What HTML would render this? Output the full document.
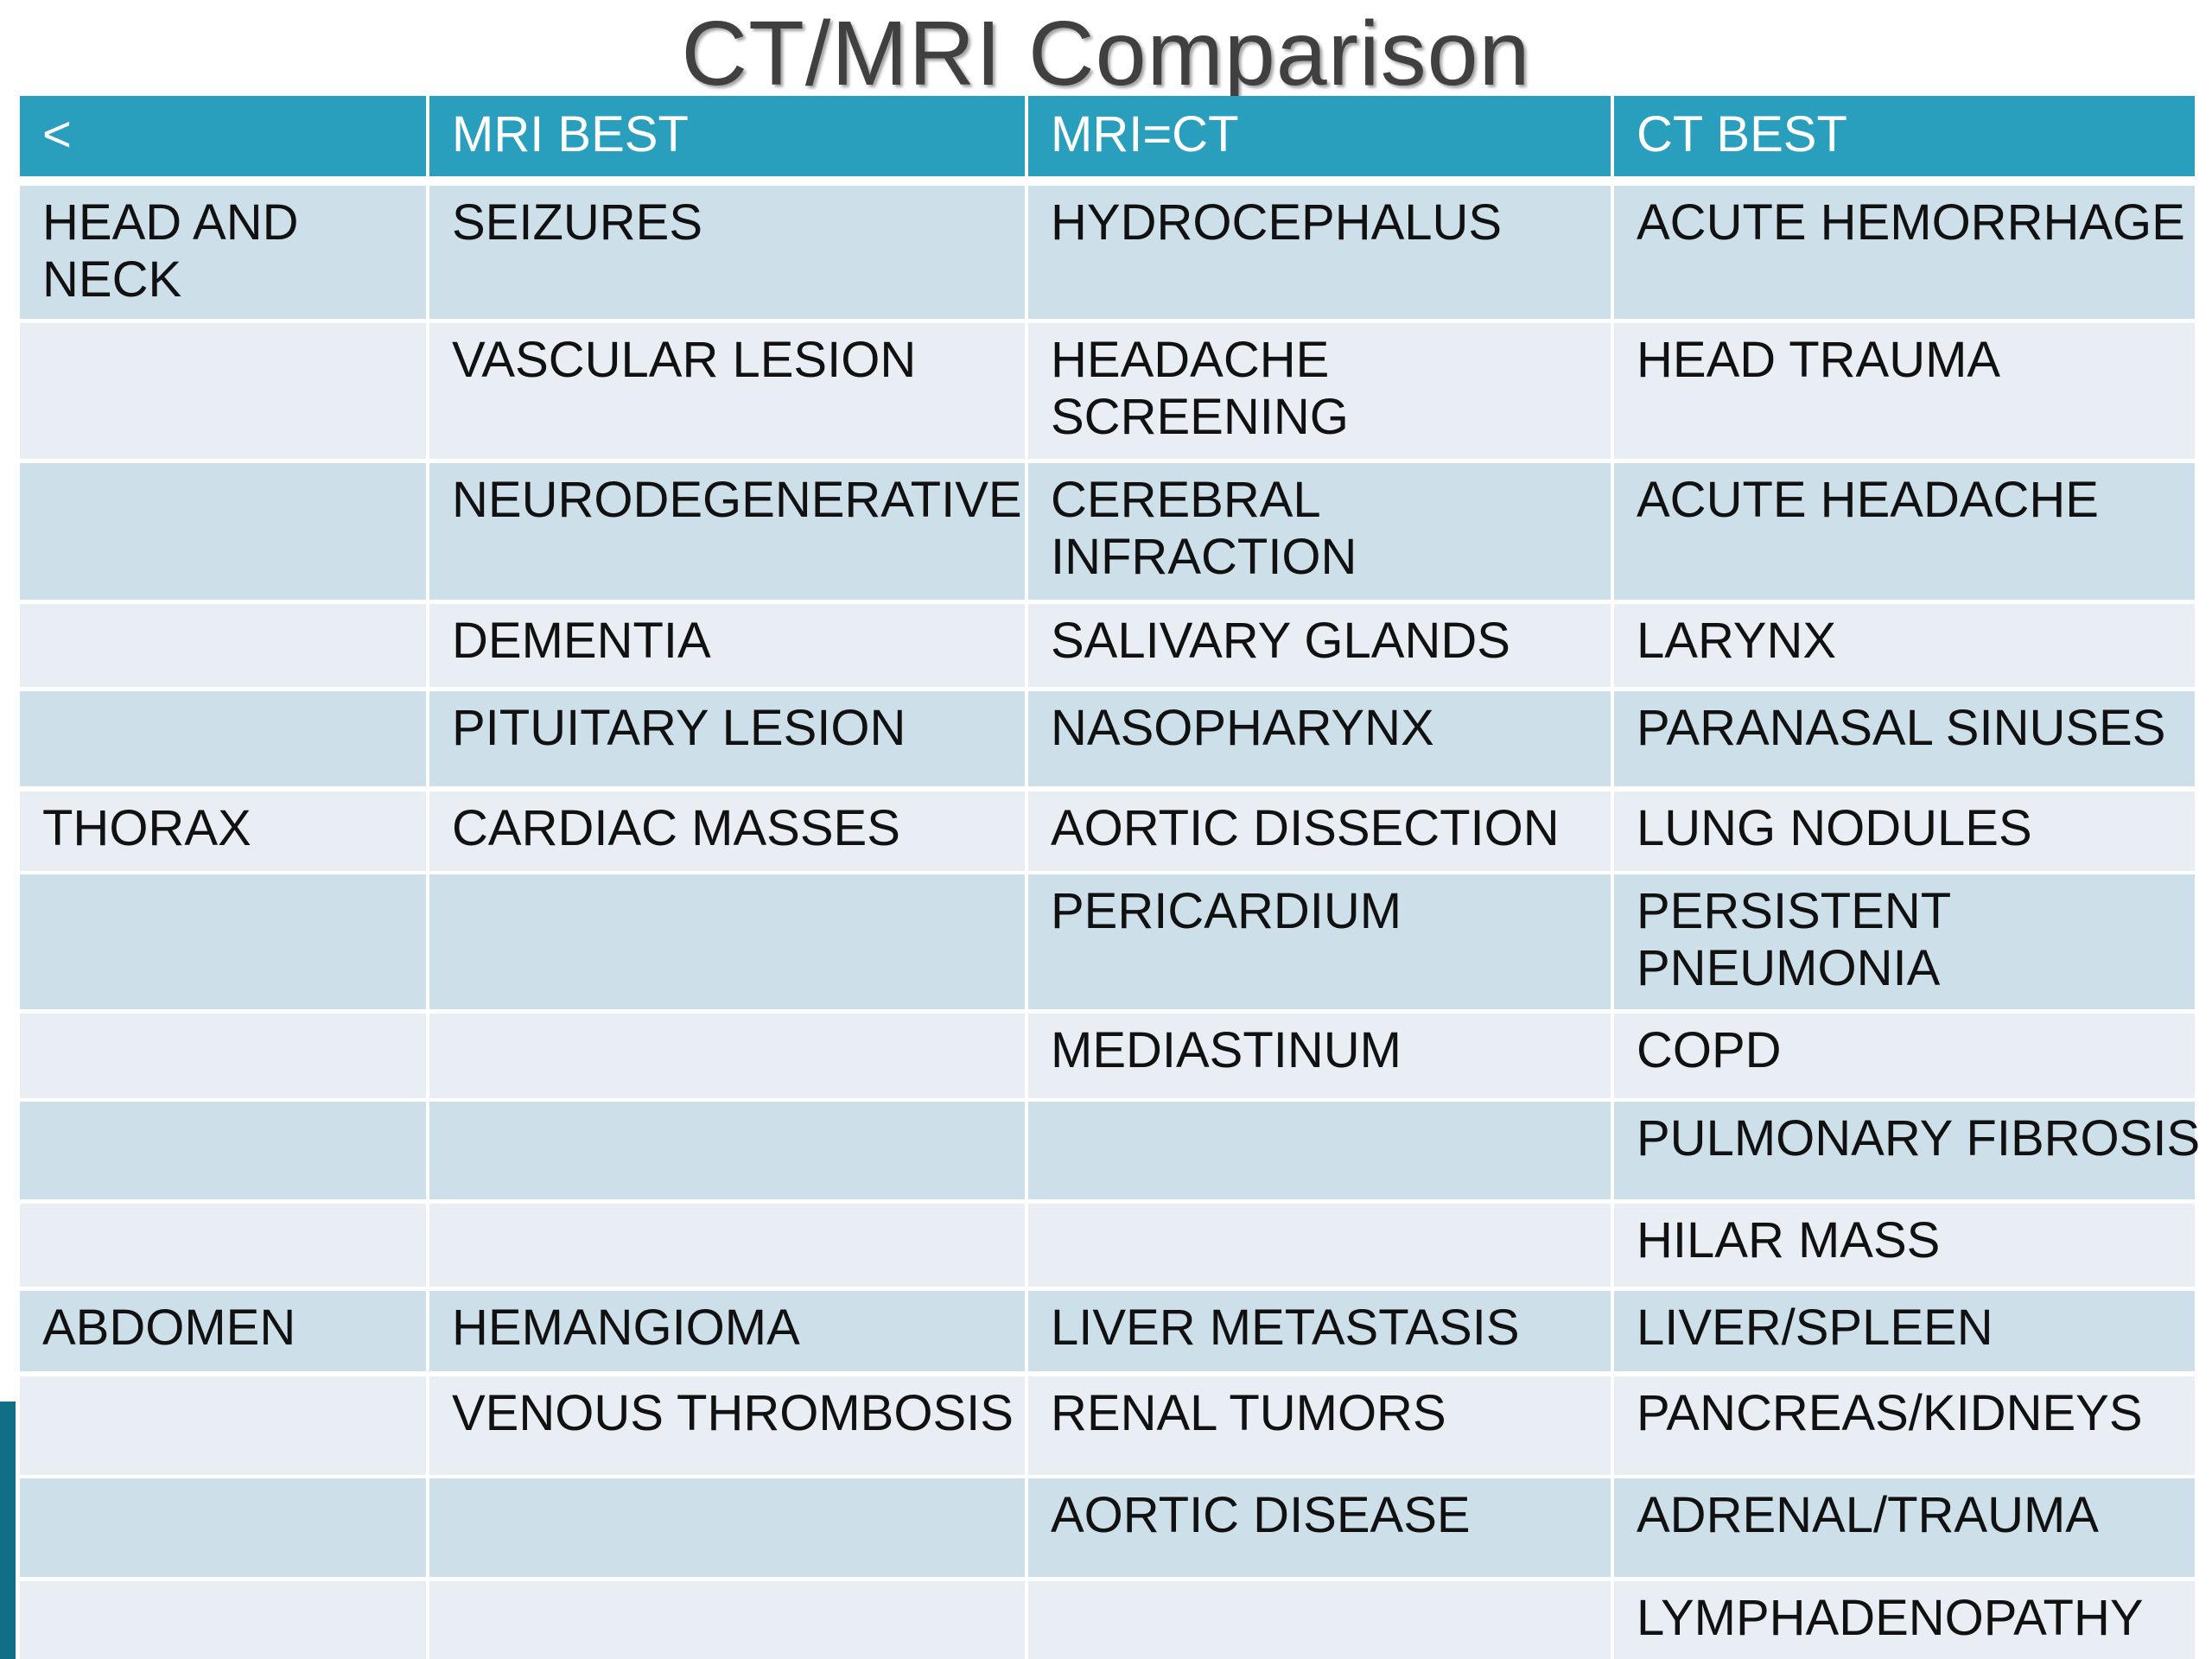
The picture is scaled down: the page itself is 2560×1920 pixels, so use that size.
<!DOCTYPE html>
<html><head><meta charset="utf-8"><style>
html,body{margin:0;padding:0;background:#fff;}
body{width:2560px;height:1920px;position:relative;overflow:hidden;font-family:"Liberation Sans","DejaVu Sans",sans-serif;}
#title{position:absolute;left:0;width:2560px;top:2px;text-align:center;font-size:106px;color:#404040;text-shadow:3px 3px 3px rgba(0,0,0,0.35);letter-spacing:1px;}
.cell{position:absolute;box-sizing:border-box;padding:10px 0 0 26px;font-size:58px;line-height:66px;color:#111;letter-spacing:0px;white-space:nowrap;}
.hdr{background:#2a9fbd;color:#fff;}
.dark{background:#cddfe8;}
.light{background:#e8eef4;}
#sidebar{position:absolute;left:0;top:1622px;width:18px;height:298px;background:#0e6f86;}
</style></head><body>
<div id="title">CT/MRI Comparison</div>
<div id="sidebar"></div>
<div id="table"></div>
<script>
const colEdges=[[23,493],[497,1186],[1190,1864],[1868,2540]];
const headers=["<","MRI BEST","MRI=CT","CT BEST"];
const rowEdges=[[215,369],[374,531],[536,694],[699,795],[800,910],[916,1008],[1012,1168],[1173,1271],[1275,1388],[1393,1489],[1494,1587],[1593,1707],[1711,1825],[1830,1920]];
const rows=[
["HEAD AND<br>NECK","SEIZURES","HYDROCEPHALUS","ACUTE HEMORRHAGE"],
["","VASCULAR LESION","HEADACHE<br>SCREENING","HEAD TRAUMA"],
["","NEURODEGENERATIVE","CEREBRAL<br>INFRACTION","ACUTE HEADACHE"],
["","DEMENTIA","SALIVARY GLANDS","LARYNX"],
["","PITUITARY LESION","NASOPHARYNX","PARANASAL SINUSES"],
["THORAX","CARDIAC MASSES","AORTIC DISSECTION","LUNG NODULES"],
["","","PERICARDIUM","PERSISTENT<br>PNEUMONIA"],
["","","MEDIASTINUM","COPD"],
["","","","PULMONARY FIBROSIS"],
["","","","HILAR MASS"],
["ABDOMEN","HEMANGIOMA","LIVER METASTASIS","LIVER/SPLEEN"],
["","VENOUS THROMBOSIS","RENAL TUMORS","PANCREAS/KIDNEYS"],
["","","AORTIC DISEASE","ADRENAL/TRAUMA"],
["","","","LYMPHADENOPATHY"]];
const t=document.getElementById('table');
headers.forEach((h,c)=>{
  const d=document.createElement('div');
  d.className='cell hdr';
  
  
  d.style.left=colEdges[c][0]+'px';d.style.width=(colEdges[c][1]-colEdges[c][0])+'px';
  d.style.top='111px';d.style.height='93px';d.style.paddingTop='12px';
  d.textContent=h;t.appendChild(d);
});
rows.forEach((r,i)=>{
  r.forEach((txt,c)=>{
    const d=document.createElement('div');
    d.className='cell '+(i%2===0?'dark':'light');
    
    
    d.style.left=colEdges[c][0]+'px';d.style.width=(colEdges[c][1]-colEdges[c][0])+'px';
    d.style.top=rowEdges[i][0]+'px';d.style.height=(rowEdges[i][1]-rowEdges[i][0])+'px';
    d.innerHTML=txt;t.appendChild(d);
  });
});
</script>
</body></html>
